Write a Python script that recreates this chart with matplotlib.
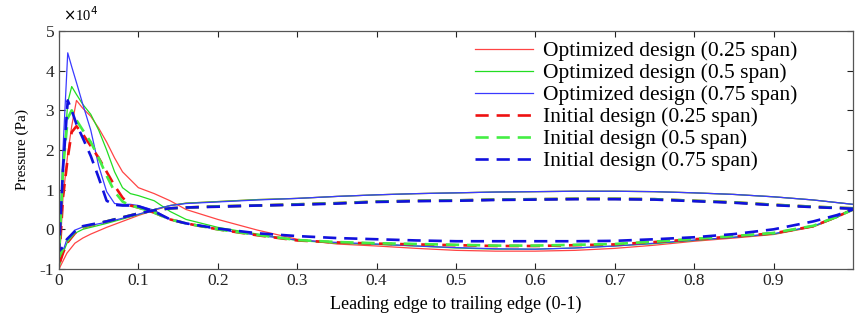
import numpy as np
import matplotlib.pyplot as plt

plt.rcParams['font.family'] = ['Liberation Serif', 'DejaVu Serif']
plt.rcParams['axes.unicode_minus'] = False

# chordwise positions (0 = leading edge, 1 = trailing edge)
x_spike = [0, 0.005, 0.011, 0.016, 0.022, 0.03, 0.04, 0.05, 0.06, 0.07, 0.08, 0.09,
           0.10, 0.12, 0.14, 0.16, 0.20, 0.25, 0.30, 0.35, 0.40, 0.45, 0.50, 0.55,
           0.60, 0.65, 0.70, 0.75, 0.80, 0.85, 0.90, 0.95, 0.98, 1.00]
x_flat = [0, 0.005, 0.01, 0.02, 0.03, 0.04, 0.06, 0.08, 0.10, 0.12, 0.14, 0.16,
          0.20, 0.25, 0.30, 0.35, 0.40, 0.45, 0.50, 0.55, 0.60, 0.65, 0.70, 0.75,
          0.80, 0.85, 0.90, 0.95, 1.00]

# pressure (x1e4 Pa), branch with the leading edge peak
opt_025_spike = [-1.0, 0.8, 1.9, 2.6, 3.25, 3.05, 2.85, 2.55, 2.2, 1.8, 1.45, 1.25,
                 1.05, 0.9, 0.72, 0.5, 0.25, -0.02, -0.25, -0.37, -0.42, -0.48, -0.53, -0.55,
                 -0.55, -0.53, -0.48, -0.4, -0.3, -0.22, -0.13, 0.06, 0.3, 0.53]
opt_05_spike = [-0.95, 1.5, 3.2, 3.6, 3.4, 3.15, 2.9, 2.5, 2.0, 1.45, 1.05, 0.9,
                0.85, 0.72, 0.45, 0.25, 0.05, -0.12, -0.28, -0.35, -0.38, -0.42, -0.47, -0.5,
                -0.5, -0.47, -0.42, -0.36, -0.28, -0.2, -0.12, 0.07, 0.3, 0.53]
opt_075_spike = [-0.8, 2.0, 4.45, 4.1, 3.7, 3.15, 2.5, 1.6, 0.95, 0.65, 0.63, 0.63,
                 0.6, 0.48, 0.25, 0.15, 0.0, -0.15, -0.27, -0.33, -0.37, -0.42, -0.46, -0.49,
                 -0.5, -0.47, -0.42, -0.35, -0.27, -0.2, -0.11, 0.08, 0.32, 0.53]
init_025_spike = [-0.9, 0.8, 1.8, 2.45, 2.6, 2.4, 2.1, 1.8, 1.45, 1.1, 0.8, 0.6,
                  0.55, 0.42, 0.25, 0.15, 0.0, -0.15, -0.28, -0.33, -0.36, -0.38, -0.4, -0.42,
                  -0.42, -0.4, -0.38, -0.32, -0.25, -0.18, -0.1, 0.08, 0.32, 0.5]
init_05_spike = [-0.7, 1.5, 2.8, 3.0, 2.75, 2.5, 2.2, 1.8, 1.35, 0.95, 0.7, 0.6,
                 0.55, 0.42, 0.25, 0.15, 0.0, -0.14, -0.27, -0.32, -0.35, -0.37, -0.39, -0.41,
                 -0.41, -0.39, -0.37, -0.31, -0.24, -0.17, -0.09, 0.09, 0.32, 0.5]
init_075_spike = [-0.55, 1.5, 3.25, 3.0, 2.65, 2.3, 1.85, 1.3, 0.72, 0.62, 0.6, 0.6,
                  0.58, 0.45, 0.25, 0.15, 0.02, -0.1, -0.17, -0.22, -0.25, -0.28, -0.3, -0.3,
                  -0.3, -0.3, -0.29, -0.25, -0.2, -0.12, 0.0, 0.2, 0.36, 0.5]

# pressure (x1e4 Pa), other branch
opt_025_flat = [-1.0, -0.8, -0.6, -0.35, -0.22, -0.12, 0.05, 0.2, 0.35, 0.48, 0.6, 0.66,
                0.7, 0.75, 0.78, 0.83, 0.87, 0.9, 0.92, 0.94, 0.95, 0.96, 0.96, 0.95,
                0.92, 0.88, 0.82, 0.74, 0.63]
opt_05_flat = [-0.95, -0.6, -0.35, -0.1, 0.0, 0.05, 0.15, 0.26, 0.37, 0.5, 0.6, 0.66,
               0.7, 0.75, 0.78, 0.83, 0.87, 0.9, 0.92, 0.94, 0.95, 0.96, 0.96, 0.95,
               0.92, 0.88, 0.82, 0.74, 0.63]
opt_075_flat = [-0.8, -0.55, -0.25, -0.02, 0.06, 0.1, 0.18, 0.28, 0.38, 0.5, 0.6, 0.65,
                0.69, 0.74, 0.78, 0.83, 0.87, 0.9, 0.92, 0.94, 0.95, 0.96, 0.96, 0.95,
                0.92, 0.88, 0.82, 0.74, 0.63]
init_025_flat = [-0.9, -0.6, -0.35, -0.1, 0.05, 0.1, 0.2, 0.3, 0.4, 0.48, 0.53, 0.55,
                 0.58, 0.6, 0.63, 0.66, 0.7, 0.72, 0.73, 0.75, 0.76, 0.77, 0.77, 0.76,
                 0.72, 0.68, 0.62, 0.57, 0.53]
init_05_flat = [-0.7, -0.5, -0.3, -0.07, 0.06, 0.11, 0.2, 0.3, 0.4, 0.48, 0.53, 0.55,
                0.58, 0.6, 0.63, 0.66, 0.7, 0.72, 0.73, 0.75, 0.76, 0.77, 0.77, 0.76,
                0.72, 0.68, 0.62, 0.57, 0.53]
init_075_flat = [-0.55, -0.45, -0.25, -0.05, 0.08, 0.12, 0.2, 0.3, 0.4, 0.48, 0.53, 0.55,
                 0.57, 0.6, 0.62, 0.65, 0.69, 0.71, 0.72, 0.74, 0.75, 0.76, 0.76, 0.75,
                 0.71, 0.67, 0.61, 0.56, 0.52]

labels = ['Optimized design (0.25 span)', 'Optimized design (0.5 span)',
          'Optimized design (0.75 span)', 'Initial design (0.25 span)',
          'Initial design (0.5 span)', 'Initial design (0.75 span)']
x_ticks = [0, 0.1, 0.2, 0.3, 0.4, 0.5, 0.6, 0.7, 0.8, 0.9]
y_ticks = [-1, 0, 1, 2, 3, 4, 5]


def loop(flat, spike):
    """闭合曲线: 先沿平缓侧回到前缘, 再沿峰值侧到尾缘"""
    xs = np.concatenate([np.array(x_flat)[::-1], x_spike])
    ys = np.concatenate([np.array(flat)[::-1], spike])
    return xs, ys


fig = plt.figure(figsize=(8.56, 3.2), dpi=100)
ax = fig.add_axes([59/856, 51/320, 794/856, 238/320])

series = [
    (opt_025_flat, opt_025_spike, '#ff4444', '-', 0.9),
    (opt_05_flat, opt_05_spike, '#22dd22', '-', 0.9),
    (opt_075_flat, opt_075_spike, '#3a3aff', '-', 0.9),
    (init_025_flat, init_025_spike, '#ee1111', '--', 1.9),
    (init_05_flat, init_05_spike, '#44ee44', '--', 1.9),
    (init_075_flat, init_075_spike, '#1111dd', '--', 1.9),
]
for (flat, spike, c, ls, lw), lab in zip(series, labels):
    xs, ys = loop(flat, spike)
    line, = ax.plot(xs, ys, color=c, linestyle=ls, linewidth=lw, label=lab)
    if ls == '--':
        line.set_dashes((5, 3))

ax.set_xlim(0, 1)
ax.set_ylim(-1, 5)
ax.set_xticks(x_ticks)
ax.set_xticklabels(['0'] + [f'{t:g}' for t in x_ticks[1:]])
ax.set_yticks(y_ticks)
ax.tick_params(direction='in', top=True, right=True, length=4, labelsize=12.5,
               colors='#222222')
ax.tick_params(axis='x', pad=3)
for sp in ax.spines.values():
    sp.set_color('#555555')
    sp.set_linewidth(0.9)

ax.set_xlabel('Leading edge to trailing edge (0-1)', fontsize=13, labelpad=5)
ax.set_ylabel('Pressure (Pa)', fontsize=11, labelpad=8)
fig.text(63/856, 1 - 15/320, r'$\times$10$^4$', fontsize=10.5, va='center', ha='left')

ax.legend(loc='upper left', bbox_to_anchor=(475/856, 1 - 41/320),
          bbox_transform=fig.transFigure, frameon=False, fontsize=15.5,
          borderpad=0, borderaxespad=0, labelspacing=0.09,
          handlelength=2.7, handletextpad=0.45)

fig.savefig('out.png', dpi=100)
